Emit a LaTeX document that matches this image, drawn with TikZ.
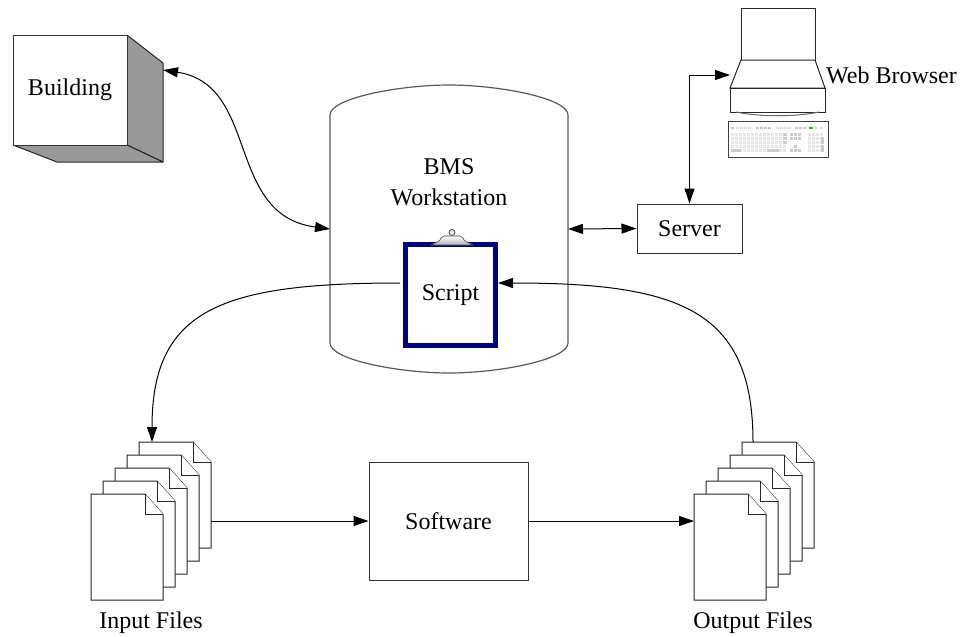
\documentclass[tikz,border=0pt]{standalone}
\usepackage{fontspec}
\setmainfont{Liberation Serif}
\usetikzlibrary{arrows.meta,calc}
\definecolor{clipnavy}{RGB}{0,0,128}
\definecolor{facegray}{RGB}{153,153,153}

% one sheet of a document stack, top-left corner at (#1,#2), dog-eared at the top right
\newcommand\docsheet[2]{%
  \draw[sheet] ({#1},{#2}) -- ({#1+54},{#2}) -- ({#1+72},{#2+20}) -- ({#1+72},{#2+106}) -- ({#1},{#2+106}) -- cycle;
  \draw[sheet] ({#1+54},{#2}) -- ({#1+54},{#2+20}) -- ({#1+72},{#2+20});
}

\begin{document}
\begin{tikzpicture}[x=1pt,y=-1pt,
  lbl/.style={font=\fontsize{24}{31}\selectfont, inner sep=0pt},
  box/.style={draw=black!80, line width=1pt, fill=white, lbl},
  sheet/.style={draw=black!85, line width=1pt, fill=white, line join=miter},
  conn/.style={line width=1pt, draw=black, >={Triangle[length=15pt,width=10pt]}},
  ghost/.style={inner sep=0pt, outer sep=0pt},
]
\useasboundingbox (0,0) rectangle (969,637);

% ---------- building (cube) ----------
\path[fill=facegray, draw=black!85, line width=1pt, line join=round]
  (127,35) -- (163,63) -- (163,162) -- (127,145) -- cycle;
\path[fill=facegray, draw=black!85, line width=1pt, line join=round]
  (13,145) -- (127,145) -- (163,162) -- (57,162) -- cycle;
\node[box, minimum width=114pt, minimum height=110pt] (building) at (70,90) {Building};
\coordinate (bldgside) at (163,70);

% ---------- BMS workstation (drum) ----------
\node[ghost, minimum width=238pt, minimum height=288pt] (bms) at (449,229) {};
\draw[draw=black!65, line width=1.2pt]
  (330,115) .. controls (330,98) and (400,85) .. (449,85)
  .. controls (498,85) and (568,98) .. (568,115) -- (568,343)
  .. controls (568,360) and (498,373) .. (449,373)
  .. controls (400,373) and (330,360) .. (330,343) -- cycle;
\node[lbl, align=center] (bmslabel) at (449,182) {BMS\\Workstation};

% ---------- script clipboard ----------
\node[draw=clipnavy, line width=5pt, fill=white, minimum width=90pt, minimum height=101pt, lbl]
  (script) at (450.5,295) {Script};
\shade[top color=white, bottom color=gray!60, draw=gray!55!black, line width=0.6pt]
  (431,245) .. controls (436,242) and (440,242) .. (441,238) -- (444,236) -- (460,236)
  -- (463,238) .. controls (464,242) and (468,242) .. (473,245) -- cycle;
\draw[gray!55!black, line width=0.8pt, fill=gray!15] (452,232.5) circle (3);

% ---------- server ----------
\node[box, minimum width=105pt, minimum height=49pt] (server) at (689.5,228.5) {Server};

% ---------- web browser (computer) ----------
\draw[draw=black!85, line width=1pt, fill=white] (741,8) rectangle (815,60);
\draw[draw=black!85, line width=1pt, fill=white] (741,60) -- (815,60) -- (825,88) -- (730,88) -- cycle;
\draw[draw=black!85, line width=1pt, fill=white] (730,88) rectangle (825,112);
\draw[gray!80!black, line width=1pt] (736,112) .. controls (760,117) and (795,117) .. (819,112);
% keyboard
\draw[draw=black!75, line width=0.8pt, fill=white] (728,121) rectangle (828,157);
\foreach \c in {0,...,3} {
  \fill[gray!25] ({736+4*\c},126.5) rectangle ++(3,2.5);
  \fill[gray!45] ({756+4*\c},126.5) rectangle ++(3,2.5);
  \fill[gray!25] ({776+4*\c},126.5) rectangle ++(3,2.5);
}
\fill[gray!45] (730.5,126.5) rectangle ++(3,2.5);
\foreach \c in {0,...,2} { \fill[gray!45] ({795+4*\c},126.5) rectangle ++(3,2.5); }
\fill[green!80!black] (809,127) rectangle ++(4,1.5);
\fill[gray!25] (815,127) rectangle ++(3,1.5);
\fill[gray!25] (820,127) rectangle ++(3,1.5);
\foreach \r in {0,...,4} {
  \foreach \c in {0,...,13} { \fill[gray!20] ({731+4*\c},{133+4*\r}) rectangle ++(3,3); }
  \foreach \c in {0,...,3} { \fill[gray!20] ({808+4*\c},{133+4*\r}) rectangle ++(3,3); }
}
\foreach \r in {0,1,2} { \fill[gray!40] (783,{133+4*\r}) rectangle ++(4,3); }
\fill[gray!40] (731,149) rectangle ++(10,3);
\fill[gray!40] (767,149) rectangle ++(12,3);
\foreach \r in {0,1} { \foreach \c in {0,...,2} { \fill[gray!40] ({790+4*\c},{133+4*\r}) rectangle ++(3,3); } }
\fill[gray!40] (794,145) rectangle ++(3,3);
\foreach \c in {0,...,2} { \fill[gray!40] ({790+4*\c},149) rectangle ++(3,3); }
\fill[gray!40] (821,137) rectangle ++(3,7);
\fill[gray!40] (821,145) rectangle ++(3,7);
\node[lbl, anchor=west] (browser) at (826,75) {Web Browser};
\coordinate (browserin) at (730,75);

% ---------- input files ----------
\foreach \k in {0,...,4} { \docsheet{139-12*\k}{442+13*\k} }
\node[ghost, minimum width=72pt, minimum height=106pt] (inback) at (175,495) {};
\node[lbl] (inlabel) at (151,623) {Input Files};

% ---------- software ----------
\node[box, minimum width=159pt, minimum height=118pt] (software) at (448.5,521) {Software};

% ---------- output files ----------
\foreach \k in {0,...,4} { \docsheet{742-12*\k}{442+13*\k} }
\node[ghost, minimum width=72pt, minimum height=106pt] (outback) at (778,495) {};
\node[ghost, minimum width=72pt, minimum height=106pt] (outfront) at (730,547) {};
\node[lbl] (outlabel) at (753,623) {Output Files};

% ---------- connectors ----------
\draw[conn,<->] (bldgside) .. controls (260,85) and (225,215) .. (bms.west);
\draw[conn,<->] (bms.east) -- (server.west);
\draw[conn,<->] (server.north) |- (browserin);
\draw[conn,->] ([xshift=-3pt,yshift=12pt]script.west)
  .. controls (220,283) and (152,310) .. ([xshift=-23pt]inback.north);
\draw[conn,->] ([xshift=-25pt]outback.north)
  .. controls (753,310) and (680,283) .. ([yshift=12pt]script.east);
\draw[conn,->] (inback.east |- software.west) -- (software.west);
\draw[conn,->] (software.east) -- (outfront.west |- software.east);
\end{tikzpicture}
\end{document}
